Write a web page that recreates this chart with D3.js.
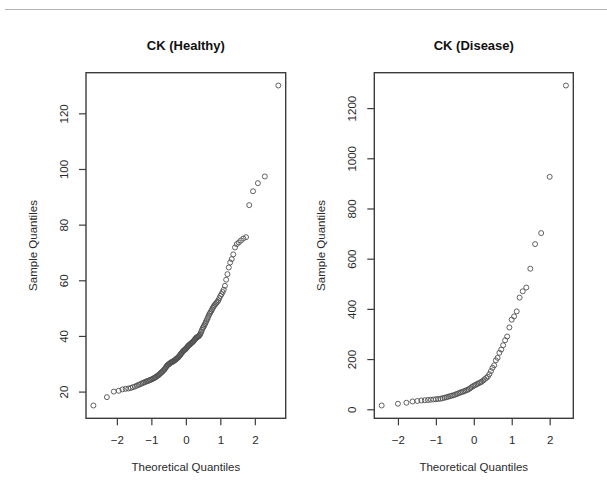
<!DOCTYPE html>
<html><head><meta charset="utf-8">
<script src="https://cdn.jsdelivr.net/npm/d3@7"></script>
<style>
html,body{margin:0;padding:0;background:#fff;}
svg{display:block;font-family:"Liberation Sans",Arial,sans-serif;}
</style></head>
<body>
<svg id="chart" width="607" height="489"></svg>
<script>
// ---- data (sample values, sorted) ----
const panelTitles = ["CK (Healthy)", "CK (Disease)"];
const xLabel = "Theoretical Quantiles";
const yLabel = "Sample Quantiles";

const healthyValues = [
  15, 18, 20, 20.3, 20.8, 21, 21.1, 21.3, 21.6, 21.8,
  22.1, 22.4, 22.6, 22.9, 23.1, 23.3, 23.5, 23.7, 23.8, 24,
  24.2, 24.3, 24.5, 24.7, 24.9, 25.1, 25.3, 25.6, 25.8, 26,
  26.3, 26.6, 26.9, 27.1, 27.4, 27.7, 28, 28.4, 28.8, 29.2,
  29.5, 29.7, 29.9, 30.1, 30.3, 30.5, 30.6, 30.7, 30.9, 31,
  31.2, 31.4, 31.6, 31.8, 32, 32.2, 32.4, 32.7, 33, 33.3,
  33.6, 33.9, 34.2, 34.5, 34.7, 34.9, 35.1, 35.3, 35.5, 35.8,
  36.1, 36.4, 36.6, 36.8, 37, 37.2, 37.4, 37.6, 37.8, 38,
  38.3, 38.6, 38.9, 39.2, 39.4, 39.6, 39.7, 39.9, 40.1, 40.4,
  40.9, 41.5, 42.2, 42.8, 43.2, 43.7, 44.2, 44.8, 45.4, 46,
  46.6, 47.3, 47.9, 48.4, 48.9, 49.5, 50.1, 50.6, 51.1, 51.5,
  51.9, 52.3, 52.8, 53.6, 54.4, 55, 55.8, 56.6, 58, 60.2,
  62.2, 64.6, 66.4, 67.6, 69.3, 71.8, 73, 73.6, 74.3, 75,
  75.5, 87, 92, 94.9, 97.3, 130
];

const diseaseValues = [
  15, 22, 26, 31, 33, 35, 36, 37, 38, 39,
  40, 41, 42, 44, 46, 48, 50, 52, 54, 56,
  58, 61, 63, 66, 68, 70, 72, 75, 77, 80,
  84, 88, 92, 95, 98, 101, 104, 107, 110, 115,
  120, 125, 130, 140, 152, 165, 175, 195, 205, 225,
  238, 255, 275, 290, 326, 357, 370, 390, 445, 470,
  485, 560, 658, 702, 926, 1290
];

const xTicks = [-2, -1, 0, 1, 2];
const yTicksHealthy = [20, 40, 60, 80, 100, 120];
const yTicksDisease = [0, 200, 400, 600, 800, 1000, 1200];

// ---- qqnorm helpers ----
function qnorm(p) {
  const a = [-3.969683028665376e+01, 2.209460984245205e+02, -2.759285104469687e+02, 1.383577518672690e+02, -3.066479806614716e+01, 2.506628277459239e+00];
  const b = [-5.447609879822406e+01, 1.615858368580409e+02, -1.556989798598866e+02, 6.680131188771972e+01, -1.328068155288572e+01];
  const c = [-7.784894002430293e-03, -3.223964580411365e-01, -2.400758277161838e+00, -2.549732539343734e+00, 4.374664141464968e+00, 2.938163982698783e+00];
  const d = [7.784695709041462e-03, 3.224671290700398e-01, 2.445134137142996e+00, 3.754408661907416e+00];
  const pl = 0.02425, ph = 1 - pl;
  let q, r;
  if (p < pl) { q = Math.sqrt(-2 * Math.log(p));
    return (((((c[0]*q+c[1])*q+c[2])*q+c[3])*q+c[4])*q+c[5]) / ((((d[0]*q+d[1])*q+d[2])*q+d[3])*q+1); }
  if (p <= ph) { q = p - 0.5; r = q*q;
    return (((((a[0]*r+a[1])*r+a[2])*r+a[3])*r+a[4])*r+a[5])*q / (((((b[0]*r+b[1])*r+b[2])*r+b[3])*r+b[4])*r+1); }
  q = Math.sqrt(-2 * Math.log(1 - p));
  return -(((((c[0]*q+c[1])*q+c[2])*q+c[3])*q+c[4])*q+c[5]) / ((((d[0]*q+d[1])*q+d[2])*q+d[3])*q+1);
}
function qqPoints(vals) {
  const n = vals.length, a = n <= 10 ? 3/8 : 0.5;
  const s = vals.slice().sort((x, y) => x - y);
  return s.map((v, i) => ({ x: qnorm((i + 1 - a) / (n + 1 - 2 * a)), y: v }));
}
function rRange(ext) { const d = (ext[1] - ext[0]) * 0.04; return [ext[0] - d, ext[1] + d]; }

// ---- drawing ----
const svg = d3.select("#chart");
svg.append("line").attr("x1", 5).attr("x2", 607).attr("y1", 9.5).attr("y2", 9.5)
  .attr("stroke", "#b4b4b4").attr("stroke-width", 1.2);

const panels = [
  { title: panelTitles[0], vals: healthyValues, yTicks: yTicksHealthy, left: 86, right: 285.7 },
  { title: panelTitles[1], vals: diseaseValues, yTicks: yTicksDisease, left: 374.3, right: 573.3 }
];
const plotTop = 72.7, plotBottom = 418.3;
const txtCol = "#2a2a2a", boxCol = "#3c3c3c";

panels.forEach(p => {
  const pts = qqPoints(p.vals);
  const x = d3.scaleLinear().domain(rRange(d3.extent(pts, d => d.x))).range([p.left, p.right]);
  const y = d3.scaleLinear().domain(rRange(d3.extent(pts, d => d.y))).range([plotBottom, plotTop]);
  const g = svg.append("g");

  // points
  g.append("g").selectAll("circle").data(pts).join("circle")
    .attr("cx", d => x(d.x)).attr("cy", d => y(d.y)).attr("r", 2.5)
    .attr("fill", "none").attr("stroke", "#505050").attr("stroke-width", 0.9);

  // box
  g.append("rect").attr("x", p.left).attr("y", plotTop)
    .attr("width", p.right - p.left).attr("height", plotBottom - plotTop)
    .attr("fill", "none").attr("stroke", boxCol).attr("stroke-width", 1.4);

  // x axis
  const xa = g.append("g").attr("transform", `translate(0,${plotBottom})`)
    .call(d3.axisBottom(x).tickValues(xTicks).tickSize(7).tickPadding(11).tickFormat(d => d < 0 ? "\u2212" + Math.abs(d) : d));
  xa.select(".domain").remove();
  xa.selectAll(".tick line").attr("stroke", boxCol).attr("stroke-width", 1.2);
  xa.selectAll(".tick text").attr("fill", txtCol).attr("font-size", "11.5px").attr("font-family", "Liberation Sans, Arial, sans-serif");

  // y axis
  const ya = g.append("g").attr("transform", `translate(${p.left},0)`)
    .call(d3.axisLeft(y).tickValues(p.yTicks).tickSize(7).tickPadding(0).tickFormat(d3.format("d")));
  ya.select(".domain").remove();
  ya.selectAll(".tick line").attr("stroke", boxCol).attr("stroke-width", 1.2);
  ya.selectAll(".tick text").attr("fill", txtCol).attr("font-size", "11.5px")
    .attr("font-family", "Liberation Sans, Arial, sans-serif")
    .attr("transform", "translate(-22,0) rotate(-90)").attr("x", 0).attr("dy", "0.35em")
    .attr("text-anchor", "middle");

  const cx = (p.left + p.right) / 2;
  // title
  g.append("text").attr("x", cx).attr("y", 50).attr("text-anchor", "middle")
    .attr("font-size", "13px").attr("font-weight", "bold").attr("fill", "#111").text(p.title);
  // x label
  g.append("text").attr("x", cx).attr("y", 471).attr("text-anchor", "middle")
    .attr("font-size", "11.5px").attr("fill", txtCol).text(xLabel);
  // y label
  g.append("text").attr("transform", `translate(${p.left - 49},${(plotTop + plotBottom) / 2}) rotate(-90)`)
    .attr("text-anchor", "middle").attr("font-size", "11.5px").attr("fill", txtCol).text(yLabel);
});
</script>
</body></html>
